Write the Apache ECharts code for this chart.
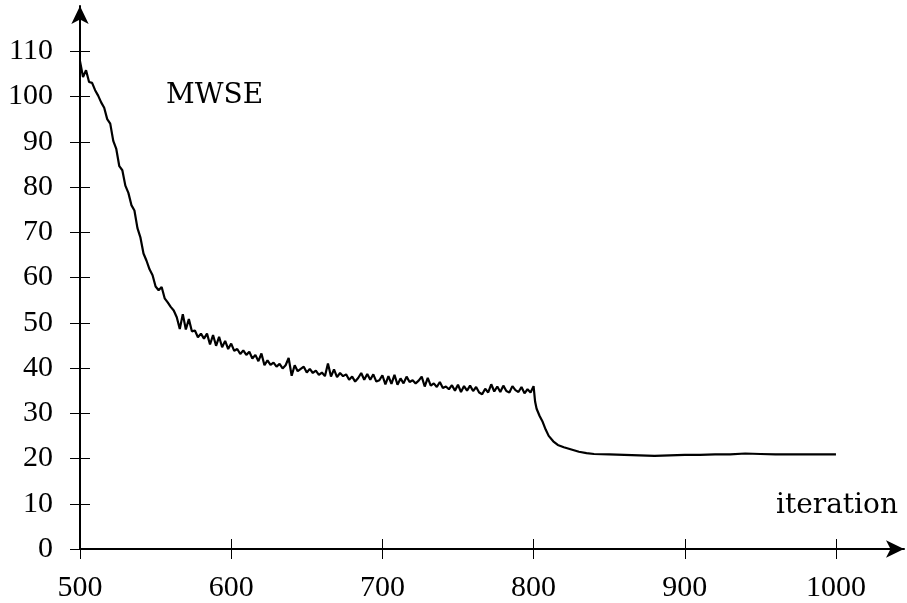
<!DOCTYPE html>
<html>
<head>
<meta charset="utf-8">
<title>MWSE</title>
<script src="https://cdn.jsdelivr.net/npm/echarts@6/dist/echarts.min.js"></script>
<style>
  html, body { margin: 0; padding: 0; background: #fff; }
  #chart { width: 907px; height: 603px; }
</style>
</head>
<body>
<div id="chart"></div>
<script>
// iteration numbers of the samples
var iterations = [
  500, 502, 504, 506, 508, 510, 512, 514, 516, 518, 520, 522, 524, 526, 528, 530,
  532, 534, 536, 538, 540, 542, 544, 546, 548, 550, 552, 554, 556, 558, 560, 562,
  564, 566, 568, 570, 572, 574, 576, 578, 580, 582, 584, 586, 588, 590, 592, 594,
  596, 598, 600, 602, 604, 606, 608, 610, 612, 614, 616, 618, 620, 622, 624, 626,
  628, 630, 632, 634, 636, 638, 640, 642, 644, 646, 648, 650, 652, 654, 656, 658,
  660, 662, 664, 666, 668, 670, 672, 674, 676, 678, 680, 682, 684, 686, 688, 690,
  692, 694, 696, 698, 700, 702, 704, 706, 708, 710, 712, 714, 716, 718, 720, 722,
  724, 726, 728, 730, 732, 734, 736, 738, 740, 742, 744, 746, 748, 750, 752, 754,
  756, 758, 760, 762, 764, 766, 768, 770, 772, 774, 776, 778, 780, 782, 784, 786,
  788, 790, 792, 794, 796, 798, 800, 801, 802, 804, 806, 808, 810, 813, 816, 820,
  825, 830, 835, 840, 850, 860, 870, 880, 890, 900, 910, 920, 930, 940, 950, 960,
  970, 980, 990, 1000
];

// MWSE
var mwse = [
  107.8, 104.3, 105.8, 103.2, 103.0, 101.4, 100.2, 98.7, 97.5, 95.0, 94.0, 90.2, 88.4, 84.6, 83.7, 80.3,
  78.7, 76.0, 74.8, 70.9, 68.8, 65.3, 63.7, 61.8, 60.5, 58.0, 57.2, 57.9, 55.4, 54.5, 53.5, 52.7,
  51.2, 48.6, 51.9, 48.5, 50.8, 48.1, 48.3, 46.8, 47.6, 46.5, 47.6, 45.2, 47.3, 44.9, 46.9, 44.6,
  46.0, 44.2, 45.4, 43.8, 44.2, 43.1, 43.9, 42.9, 43.6, 42.1, 42.9, 41.5, 43.2, 40.6, 41.7, 40.7,
  41.2, 40.3, 40.9, 39.9, 40.6, 42.2, 38.3, 40.6, 39.3, 39.8, 40.3, 39.0, 39.8, 38.9, 39.4, 38.5,
  39.0, 38.2, 41.0, 38.1, 39.7, 38.0, 38.9, 38.2, 38.6, 37.4, 38.1, 37.0, 37.8, 38.9, 37.4, 38.7,
  37.4, 38.6, 37.0, 37.3, 38.4, 36.4, 38.2, 36.5, 38.5, 36.3, 37.7, 36.6, 38.1, 36.9, 37.3, 36.6,
  37.2, 38.1, 35.9, 37.8, 36.1, 36.6, 35.8, 36.9, 35.6, 35.9, 35.3, 36.2, 35.0, 36.3, 34.7, 36.0,
  35.0, 36.1, 34.9, 35.8, 34.6, 34.2, 35.4, 34.6, 36.4, 34.8, 35.9, 34.7, 36.1, 34.9, 34.6, 36.0,
  35.1, 34.7, 35.8, 34.4, 35.3, 34.6, 36.0, 32.6, 31.0, 29.4, 28.1, 26.4, 25.0, 23.8, 23.0, 22.5,
  22.0, 21.5, 21.2, 21.0, 20.9, 20.8, 20.7, 20.6, 20.7, 20.8, 20.8, 20.9, 20.9, 21.1, 21.0, 20.9,
  20.9, 20.9, 20.9, 20.9
];

var xTicks = [500, 600, 700, 800, 900, 1000];
var yTicks = [0, 10, 20, 30, 40, 50, 60, 70, 80, 90, 100, 110];

var font = '"Liberation Serif", "DejaVu Serif", serif';
var nameFont = '28px "DejaVu Serif", serif';

var points = iterations.map(function (it, i) {
  return [it, mwse[i]];
});

var chart = echarts.init(document.getElementById('chart'));

// the same axis twice: once with ticks outside, once inside, so ticks cross the line
function xAxisDef(inside) {
  return {
    type: 'value',
    position: 'bottom',
    min: 500,
    max: 1045,
    splitLine: {show: false},
    axisLine: {
      show: !inside,
      symbol: ['none', 'arrow'],
      symbolSize: [13, 18],
      lineStyle: {color: '#000', width: 2}
    },
    axisTick: {
      show: true,
      inside: inside,
      length: 10,
      customValues: xTicks,
      lineStyle: {color: '#000', width: 1}
    },
    axisLabel: {
      show: !inside,
      customValues: xTicks,
      formatter: function (v) { return String(v); },
      margin: 24,
      color: '#000',
      fontFamily: font,
      fontSize: 30
    }
  };
}

function yAxisDef(inside) {
  return {
    type: 'value',
    position: 'left',
    min: 0,
    max: 120,
    splitLine: {show: false},
    axisLine: {
      show: !inside,
      symbol: ['none', 'arrow'],
      symbolSize: [13, 18],
      lineStyle: {color: '#000', width: 2}
    },
    axisTick: {
      show: true,
      inside: inside,
      length: 10,
      customValues: yTicks,
      lineStyle: {color: '#000', width: 1}
    },
    axisLabel: {
      show: !inside,
      customValues: yTicks,
      margin: 27,
      color: '#000',
      fontFamily: font,
      fontSize: 30
    }
  };
}

var option = {
  backgroundColor: '#fff',
  animation: false,
  grid: {
    left: 80,
    right: 3,
    top: 6,
    bottom: 52,
    containLabel: false
  },
  xAxis: [xAxisDef(false), xAxisDef(true)],
  yAxis: [yAxisDef(false), yAxisDef(true)],
  graphic: [
    {
      type: 'text',
      left: 166,
      top: 82,
      style: {text: 'MWSE', fill: '#000', font: nameFont}
    },
    {
      type: 'text',
      left: 776,
      top: 492,
      style: {text: 'iteration', fill: '#000', font: nameFont}
    }
  ],
  series: [
    {
      type: 'line',
      xAxisIndex: 0,
      yAxisIndex: 0,
      data: points,
      showSymbol: false,
      smooth: false,
      lineStyle: {color: '#000', width: 2.2},
      z: 3
    }
  ]
};

chart.setOption(option);
window.addEventListener('resize', function () {
  chart.resize();
});
</script>
</body>
</html>
